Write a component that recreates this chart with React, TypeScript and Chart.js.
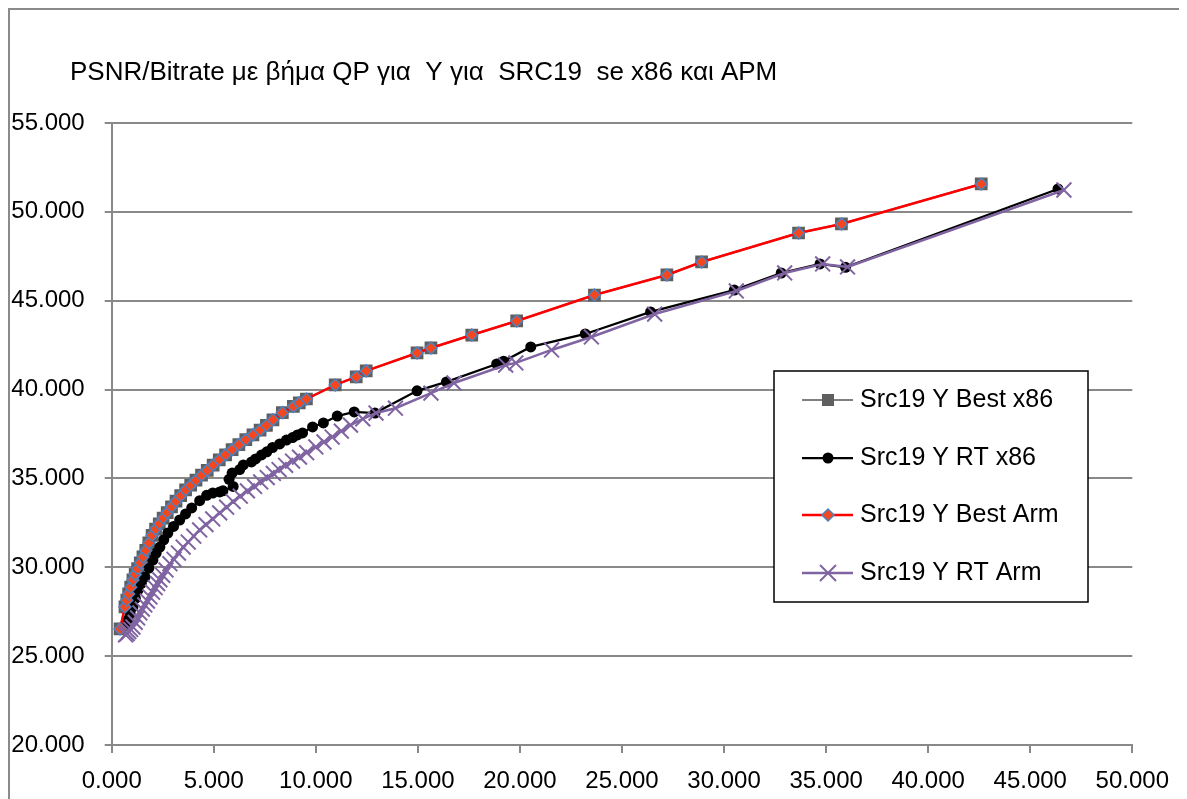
import React, { useEffect, useRef } from "react";
import { Chart, registerables } from "chart.js";

Chart.register(...registerables);

const chartTitle = "PSNR/Bitrate με βήμα QP για  Y για  SRC19  se x86 και APM";
const seriesNames = ["Src19 Y Best x86", "Src19 Y RT x86", "Src19 Y Best Arm", "Src19 Y RT Arm"];

const xTickValues = [0, 5, 10, 15, 20, 25, 30, 35, 40, 45, 50];
const xTickLabels = ["0.000", "5.000", "10.000", "15.000", "20.000", "25.000", "30.000", "35.000", "40.000", "45.000", "50.000"];
const yTickValues = [20, 25, 30, 35, 40, 45, 50, 55];
const yTickLabels = ["20.000", "25.000", "30.000", "35.000", "40.000", "45.000", "50.000", "55.000"];

const bestX86Bitrate = [
  0.41, 0.65, 0.74, 0.83, 0.93, 1.04, 1.15, 1.27, 1.40, 1.53,
  1.67, 1.82, 1.98, 2.15, 2.33, 2.52, 2.72, 2.93, 3.15, 3.38,
  3.62, 3.87, 4.13, 4.40, 4.68, 4.97, 5.27, 5.58, 5.90, 6.23,
  6.57, 6.92, 7.27, 7.58, 7.90, 8.36, 8.90, 9.19, 9.54, 10.95,
  11.98, 12.47, 14.96, 15.64, 17.64, 19.84, 23.65, 27.20, 28.90, 33.65,
  35.75, 42.60,
];
const bestX86Psnr = [
  26.53, 27.77, 28.15, 28.50, 28.88, 29.29, 29.60, 29.92, 30.25, 30.58,
  30.95, 31.37, 31.80, 32.15, 32.45, 32.77, 33.08, 33.40, 33.72, 34.03,
  34.35, 34.62, 34.90, 35.18, 35.45, 35.75, 36.05, 36.33, 36.62, 36.90,
  37.18, 37.45, 37.72, 37.98, 38.30, 38.70, 39.05, 39.25, 39.47, 40.26,
  40.71, 41.05, 42.06, 42.34, 43.07, 43.86, 45.32, 46.45, 47.18, 48.81,
  49.32, 51.57,
];

const rtX86Bitrate = [
  0.62, 0.72, 0.80, 0.90, 1.04, 1.16, 1.29, 1.45, 1.63, 1.82,
  2.02, 2.18, 2.36, 2.55, 2.75, 3.03, 3.33, 3.62, 3.92, 4.31,
  4.65, 4.95, 5.29, 5.45, 5.95, 5.75, 5.90, 6.27, 6.45, 6.85,
  7.05, 7.34, 7.60, 7.88, 8.23, 8.56, 8.86, 9.10, 9.35, 9.84,
  10.37, 11.05, 11.88, 12.90, 14.96, 16.40, 18.86, 19.20, 20.53, 23.20,
  26.40, 30.50, 32.80, 34.70, 35.95, 46.36,
];
const rtX86Psnr = [
  26.70, 26.90, 27.05, 27.40, 27.77, 28.25, 28.72, 29.10, 29.45, 29.95,
  30.41, 30.80, 31.14, 31.55, 31.93, 32.30, 32.66, 33.00, 33.34, 33.75,
  34.05, 34.18, 34.24, 34.30, 34.55, 34.95, 35.30, 35.50, 35.76, 35.93,
  36.10, 36.32, 36.50, 36.74, 36.94, 37.16, 37.30, 37.45, 37.56, 37.90,
  38.12, 38.51, 38.74, 38.68, 39.93, 40.43, 41.44, 41.60, 42.40, 43.13,
  44.37, 45.60, 46.56, 47.07, 46.88, 51.29,
];

const bestArmBitrate = [
  0.41, 0.65, 0.74, 0.83, 0.93, 1.04, 1.15, 1.27, 1.40, 1.53,
  1.67, 1.82, 1.98, 2.15, 2.33, 2.52, 2.72, 2.93, 3.15, 3.38,
  3.62, 3.87, 4.13, 4.40, 4.68, 4.97, 5.27, 5.58, 5.90, 6.23,
  6.57, 6.92, 7.27, 7.58, 7.90, 8.36, 8.90, 9.19, 9.54, 10.95,
  11.98, 12.47, 14.96, 15.64, 17.64, 19.84, 23.65, 27.20, 28.90, 33.65,
  35.75, 42.60,
];
const bestArmPsnr = [
  26.53, 27.77, 28.15, 28.50, 28.88, 29.29, 29.60, 29.92, 30.25, 30.58,
  30.95, 31.37, 31.80, 32.15, 32.45, 32.77, 33.08, 33.40, 33.72, 34.03,
  34.35, 34.62, 34.90, 35.18, 35.45, 35.75, 36.05, 36.33, 36.62, 36.90,
  37.18, 37.45, 37.72, 37.98, 38.30, 38.70, 39.05, 39.25, 39.47, 40.26,
  40.71, 41.05, 42.06, 42.34, 43.07, 43.86, 45.32, 46.45, 47.18, 48.81,
  49.32, 51.57,
];

const rtArmBitrate = [
  0.68, 0.76, 0.84, 0.93, 1.04, 1.15, 1.27, 1.38, 1.50, 1.62,
  1.75, 1.87, 2.00, 2.13, 2.25, 2.36, 2.50, 2.66, 2.85, 3.05,
  3.27, 3.50, 3.75, 4.02, 4.31, 4.62, 4.95, 5.29, 5.63, 5.95,
  6.30, 6.65, 7.00, 7.30, 7.62, 7.92, 8.20, 8.52, 8.86, 9.20,
  9.55, 10.00, 10.40, 10.80, 11.25, 11.70, 12.30, 12.95, 13.90, 15.64,
  16.77, 19.30, 19.80, 21.55, 23.50, 26.60, 30.60, 32.97, 34.83, 36.05,
  46.65,
];
const rtArmPsnr = [
  26.20, 26.27, 26.38, 26.50, 26.64, 26.90, 27.15, 27.43, 27.65, 27.88,
  28.10, 28.33, 28.60, 28.85, 29.08, 29.29, 29.55, 29.85, 30.20, 30.45,
  30.80, 31.14, 31.42, 31.75, 32.10, 32.40, 32.72, 33.06, 33.38, 33.70,
  34.00, 34.30, 34.55, 34.80, 35.05, 35.28, 35.50, 35.74, 35.98, 36.20,
  36.45, 36.77, 37.05, 37.33, 37.66, 38.00, 38.35, 38.68, 38.95, 39.80,
  40.37, 41.38, 41.50, 42.23, 42.96, 44.25, 45.55, 46.56, 47.07, 46.90,
  51.23,
];

const FONT = '"Liberation Sans", Arial, sans-serif';
const GRID = "#898989";

function pts(xs: number[], ys: number[]) {
  return xs.map((x, i) => ({ x, y: ys[i] }));
}

function drawMarker(ctx: CanvasRenderingContext2D, kind: number, x: number, y: number) {
  ctx.save();
  if (kind === 0) {
    ctx.fillStyle = "#5f5f5f";
    ctx.fillRect(x - 6, y - 6, 12, 12);
  } else if (kind === 1) {
    ctx.fillStyle = "#000";
    ctx.beginPath();
    ctx.arc(x, y, 5.5, 0, Math.PI * 2);
    ctx.fill();
  } else if (kind === 2) {
    ctx.fillStyle = "#f5461e";
    ctx.strokeStyle = "#4f81bd";
    ctx.lineWidth = 1.5;
    ctx.beginPath();
    ctx.moveTo(x, y - 6);
    ctx.lineTo(x + 6, y);
    ctx.lineTo(x, y + 6);
    ctx.lineTo(x - 6, y);
    ctx.closePath();
    ctx.fill();
    ctx.stroke();
  } else {
    ctx.strokeStyle = "#8064a2";
    ctx.lineWidth = 2;
    ctx.beginPath();
    ctx.moveTo(x - 8, y - 8);
    ctx.lineTo(x + 8, y + 8);
    ctx.moveTo(x - 8, y + 8);
    ctx.lineTo(x + 8, y - 8);
    ctx.stroke();
  }
  ctx.restore();
}

const overlayPlugin = {
  id: "overlay",
  afterDraw(chart: any) {
    const ctx: CanvasRenderingContext2D = chart.ctx;
    ctx.save();
    ctx.font = `26px ${FONT}`;
    ctx.fillStyle = "#000";
    ctx.textAlign = "left";
    ctx.textBaseline = "middle";
    ctx.fillText(chartTitle, 60, 63);

    const bx = 764, by = 361, bw = 314, bh = 231;
    ctx.fillStyle = "#fff";
    ctx.fillRect(bx, by, bw, bh);
    ctx.strokeStyle = "#000";
    ctx.lineWidth = 1.5;
    ctx.strokeRect(bx, by, bw, bh);
    const rows = [390, 448, 505, 563];
    chart.data.datasets.forEach((ds: any, i: number) => {
      const ry = rows[i];
      ctx.strokeStyle = ds.borderColor;
      ctx.lineWidth = ds.borderWidth;
      ctx.beginPath();
      ctx.moveTo(792, ry);
      ctx.lineTo(843, ry);
      ctx.stroke();
      drawMarker(ctx, i, 818, ry);
      ctx.fillStyle = "#000";
      ctx.font = `25px ${FONT}`;
      ctx.textAlign = "left";
      ctx.textBaseline = "middle";
      ctx.fillText(ds.label, 850, ry);
    });
    ctx.restore();
  },
};

export default function App() {
  const ref = useRef<HTMLCanvasElement>(null);
  useEffect(() => {
    document.body.style.overflow = "hidden";
    const canvas = ref.current!;
    const chart = new Chart(canvas, {
      type: "line",
      data: {
        datasets: [
          {
            label: seriesNames[0],
            data: pts(bestX86Bitrate, bestX86Psnr),
            borderColor: "#808080",
            borderWidth: 2,
            pointStyle: "rect",
            pointRadius: 9,
            pointBackgroundColor: "#5f5f5f",
            pointBorderColor: "#5f5f5f",
            pointBorderWidth: 0,
            order: 3,
          },
          {
            label: seriesNames[1],
            data: pts(rtX86Bitrate, rtX86Psnr),
            borderColor: "#000000",
            borderWidth: 2.25,
            pointStyle: "circle",
            pointRadius: 5.5,
            pointBackgroundColor: "#000",
            pointBorderColor: "#000",
            pointBorderWidth: 0,
            order: 2,
          },
          {
            label: seriesNames[2],
            data: pts(bestArmBitrate, bestArmPsnr),
            borderColor: "#ff0000",
            borderWidth: 2.5,
            pointStyle: "rectRot",
            pointRadius: 6,
            pointBackgroundColor: "#f5461e",
            pointBorderColor: "#4f81bd",
            pointBorderWidth: 1.5,
            order: 1,
          },
          {
            label: seriesNames[3],
            data: pts(rtArmBitrate, rtArmPsnr),
            borderColor: "#8064a2",
            borderWidth: 2.5,
            pointStyle: "crossRot",
            pointRadius: 10.5,
            pointBackgroundColor: "#8064a2",
            pointBorderColor: "#8064a2",
            pointBorderWidth: 2,
            order: 0,
          },
        ],
      },
      options: {
        responsive: false,
        devicePixelRatio: 1,
        animation: false,
        parsing: false,
        normalized: true,
        layout: { padding: { left: 0, top: 113, right: 47.3, bottom: 0 } },
        elements: { line: { tension: 0, fill: false } },
        plugins: {
          legend: { display: false },
          title: { display: false },
          tooltip: { enabled: false },
        },
        scales: {
          x: {
            type: "linear",
            min: 0,
            max: 50,
            afterFit: (s: any) => { s.height = 54; },
            afterBuildTicks: (s: any) => { s.ticks = xTickValues.map((v) => ({ value: v })); },
            ticks: {
              callback: (_v: any, i: number) => xTickLabels[i],
              font: { family: FONT, size: 24 },
              color: "#000",
              padding: 14,
              maxRotation: 0,
              autoSkip: false,
            },
            grid: { drawOnChartArea: false, drawTicks: true, tickLength: 8, color: GRID, lineWidth: 2 },
            border: { display: true, color: GRID, width: 2 },
          },
          y: {
            type: "linear",
            min: 20,
            max: 55,
            afterFit: (s: any) => { s.width = 101.7; },
            afterBuildTicks: (s: any) => { s.ticks = yTickValues.map((v) => ({ value: v })); },
            ticks: {
              callback: (_v: any, i: number) => yTickLabels[i],
              font: { family: FONT, size: 24 },
              color: "#000",
              padding: 20,
              autoSkip: false,
            },
            grid: { color: GRID, lineWidth: 2, tickLength: 7, drawTicks: true },
            border: { display: true, color: GRID, width: 2 },
          },
        },
      },
      plugins: [overlayPlugin],
    } as any);
    return () => chart.destroy();
  }, []);
  return (
    <div
      style={{
        width: 1177,
        height: 791,
        border: "2px solid #8a8a8a",
        borderBottom: "none",
        boxSizing: "border-box",
        background: "#fff",
      }}
    >
      <canvas ref={ref} width={1173} height={789} style={{ display: "block", width: 1173, height: 789 }} />
    </div>
  );
}
